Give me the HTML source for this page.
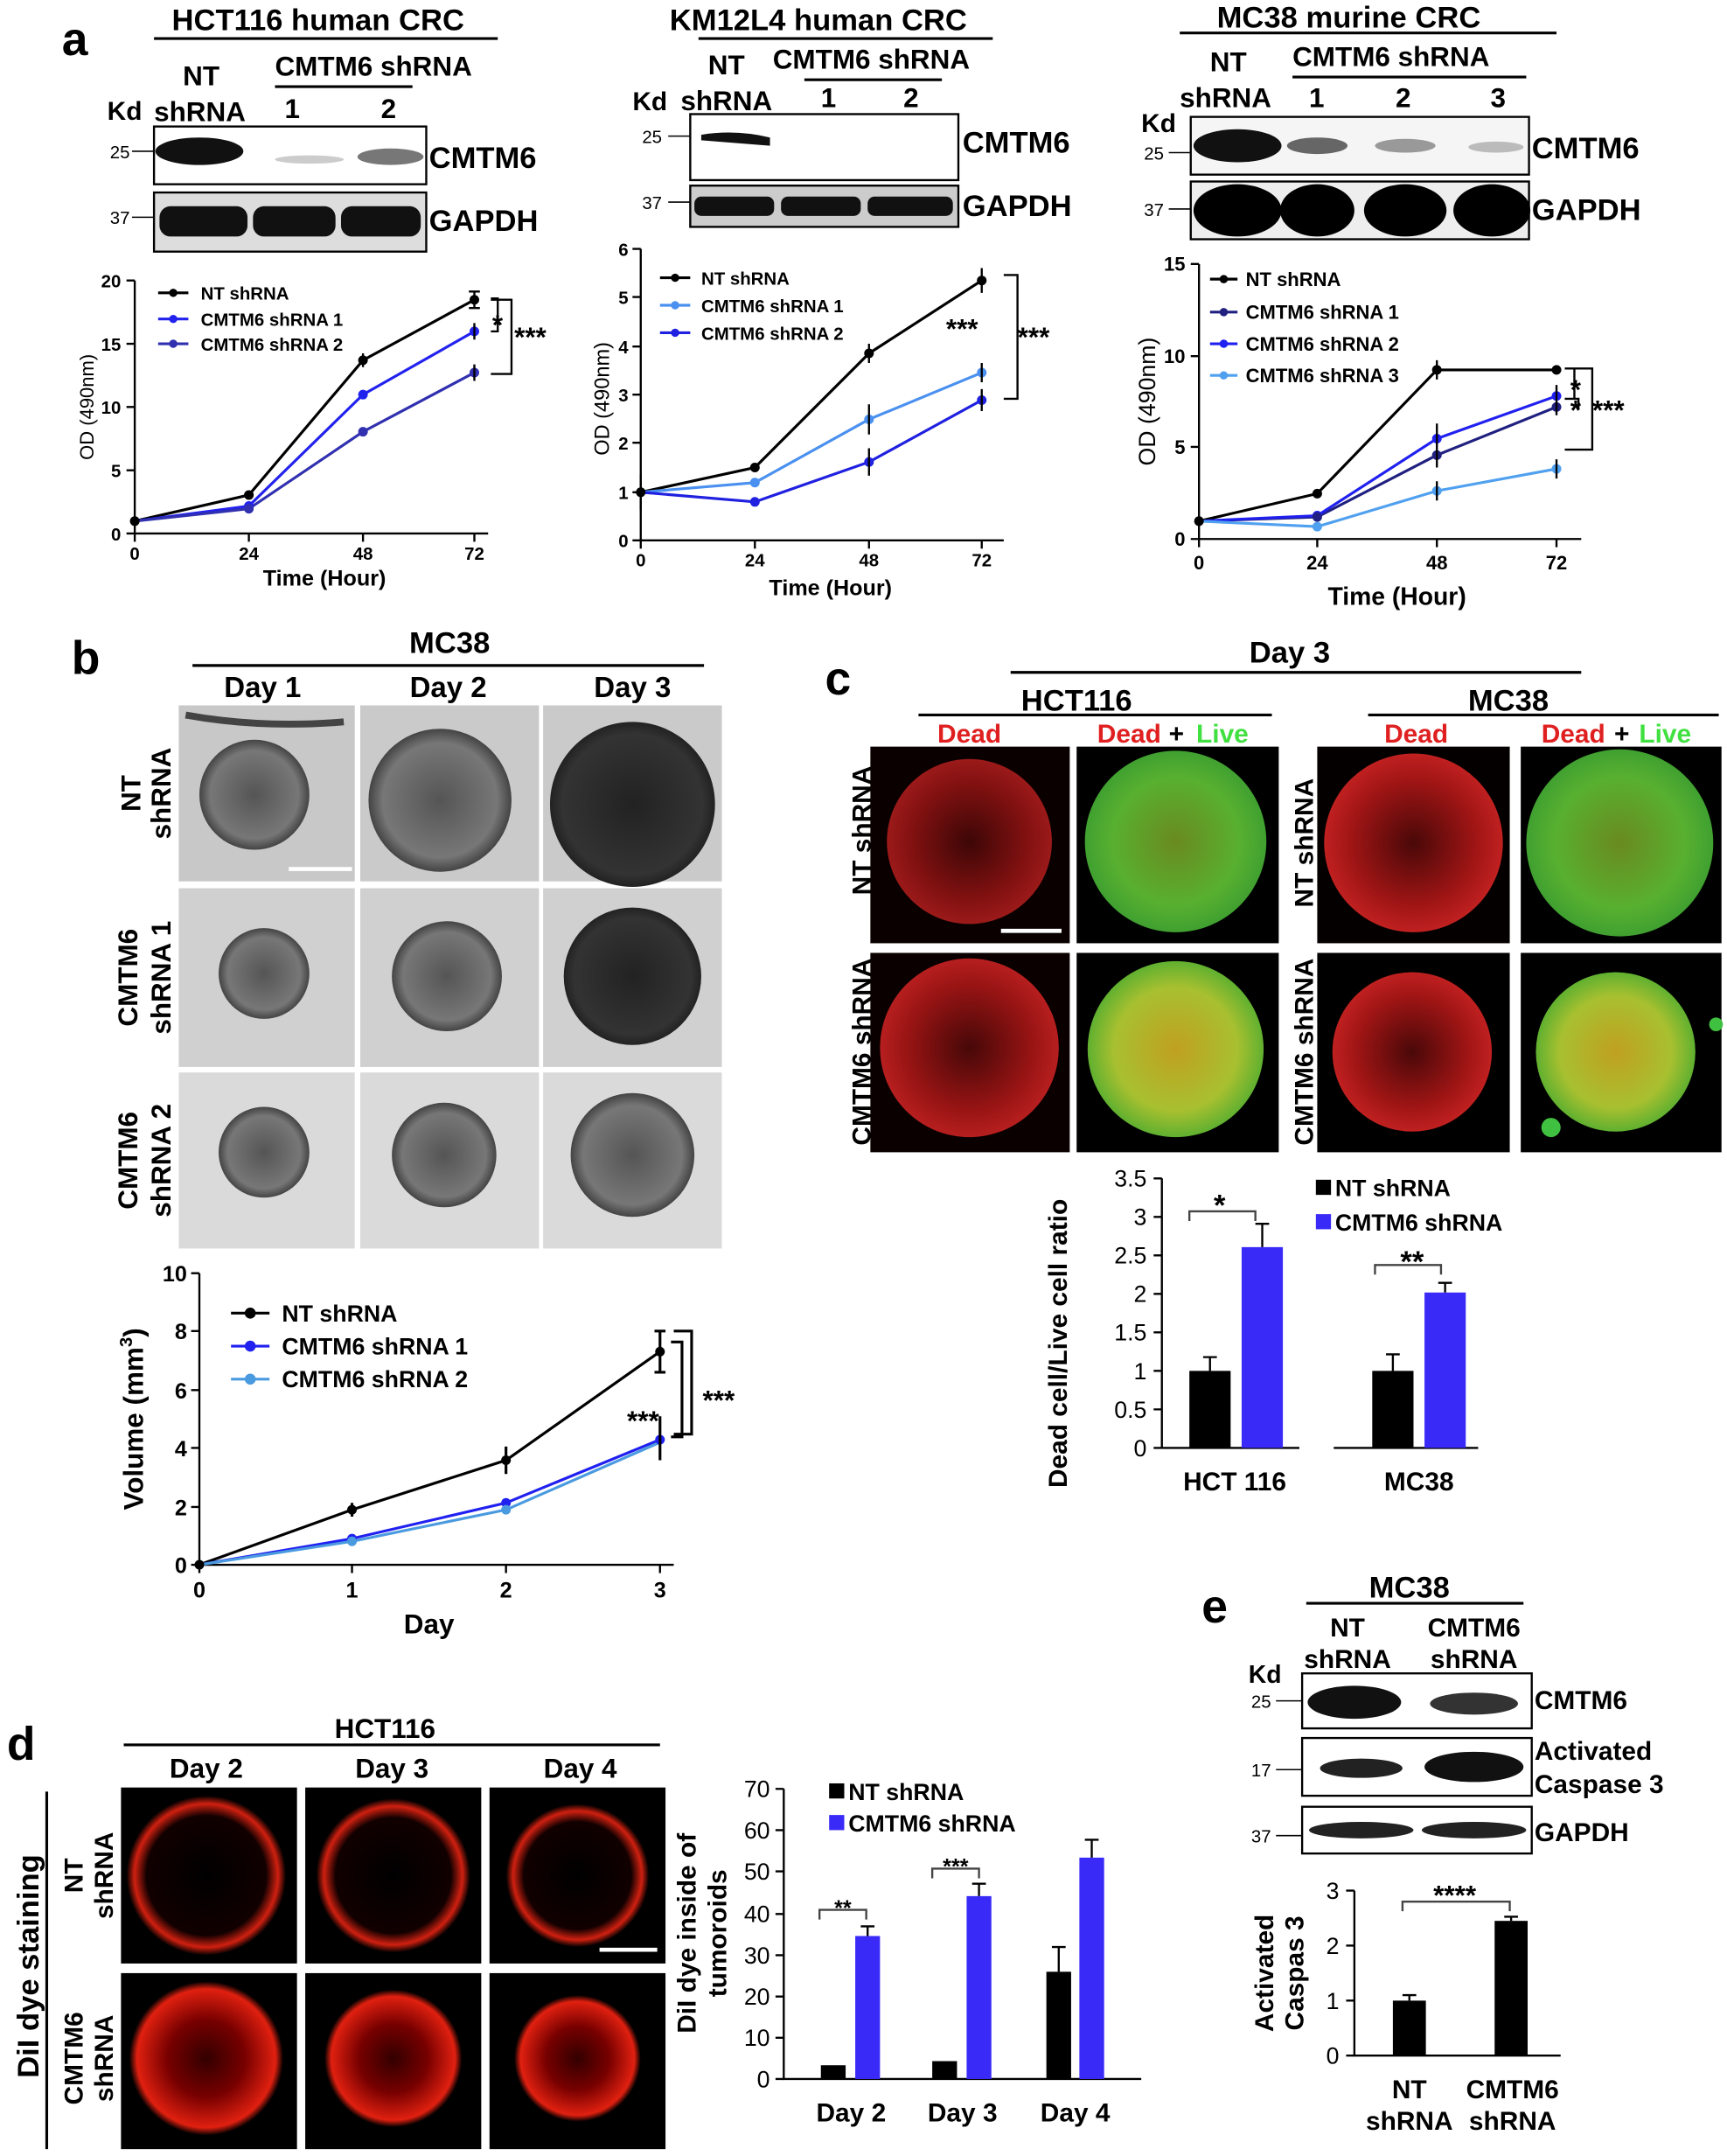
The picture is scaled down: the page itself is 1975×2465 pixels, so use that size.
<!DOCTYPE html>
<html><head><meta charset="utf-8"><style>
html,body{margin:0;padding:0;background:#fff}
svg{display:block}
text{font-family:"Liberation Sans",Arial,sans-serif}
.b{font-weight:bold}
</style></head><body>
<svg width="1975" height="2465" viewBox="0 0 1256 1568" preserveAspectRatio="none" xmlns="http://www.w3.org/2000/svg">
<defs>
<radialGradient id="gs" cx="50%" cy="50%" r="50%"><stop offset="0" stop-color="#555"/><stop offset="0.8" stop-color="#777"/><stop offset="1" stop-color="#444"/></radialGradient>
<radialGradient id="gd" cx="50%" cy="50%" r="50%"><stop offset="0" stop-color="#222"/><stop offset="0.85" stop-color="#333"/><stop offset="1" stop-color="#222"/></radialGradient>
<radialGradient id="rd" cx="50%" cy="50%" r="50%"><stop offset="0" stop-color="#4a0808"/><stop offset="0.7" stop-color="#a01515"/><stop offset="1" stop-color="#c02020"/></radialGradient>
<radialGradient id="gr" cx="50%" cy="50%" r="50%"><stop offset="0" stop-color="#6a8a20"/><stop offset="0.7" stop-color="#58b030"/><stop offset="1" stop-color="#40a030"/></radialGradient>
<radialGradient id="yl" cx="50%" cy="50%" r="50%"><stop offset="0" stop-color="#c0a020"/><stop offset="0.7" stop-color="#a8c030"/><stop offset="1" stop-color="#60b030"/></radialGradient>
<radialGradient id="ring" cx="50%" cy="50%" r="50%"><stop offset="0" stop-color="#000"/><stop offset="0.75" stop-color="#100"/><stop offset="0.9" stop-color="#d02010"/><stop offset="1" stop-color="#000"/></radialGradient>
<radialGradient id="ring2" cx="50%" cy="50%" r="50%"><stop offset="0" stop-color="#300"/><stop offset="0.5" stop-color="#700"/><stop offset="0.9" stop-color="#e02010"/><stop offset="1" stop-color="#000"/></radialGradient>
</defs>

<!-- PANEL a -->
<text x="45" y="40" font-size="34" class="b">a</text>
<!-- blot 1 -->
<text x="125" y="22" font-size="22" class="b">HCT116 human CRC</text>
<line x1="112" y1="28" x2="362" y2="28" stroke="#000" stroke-width="2"/>
<text x="133" y="62" font-size="20" class="b">NT</text>
<text x="200" y="55" font-size="20" class="b">CMTM6 shRNA</text>
<line x1="200" y1="63" x2="300" y2="63" stroke="#000" stroke-width="2"/>
<text x="78" y="87" font-size="19" class="b">Kd</text>
<text x="112" y="88" font-size="20" class="b">shRNA</text>
<text x="207" y="86" font-size="20" class="b">1</text>
<text x="277" y="86" font-size="20" class="b">2</text>
<rect x="112" y="92" width="198" height="42" fill="#fff" stroke="#000" stroke-width="1.5"/>
<ellipse cx="145" cy="110" rx="32" ry="10" fill="#111"/>
<ellipse cx="225" cy="116" rx="25" ry="3" fill="#ccc"/>
<ellipse cx="284" cy="114" rx="24" ry="6" fill="#777"/>
<text x="312" y="122" font-size="22" class="b">CMTM6</text>
<text x="80" y="115" font-size="13">25</text><line x1="96" y1="110" x2="112" y2="110" stroke="#000"/>
<rect x="112" y="140" width="198" height="43" fill="#ddd" stroke="#000" stroke-width="1.5"/>
<rect x="116" y="150" width="64" height="22" rx="8" fill="#111"/>
<rect x="184" y="150" width="60" height="22" rx="8" fill="#111"/>
<rect x="248" y="150" width="58" height="22" rx="8" fill="#111"/>
<text x="312" y="168" font-size="22" class="b">GAPDH</text>
<text x="80" y="163" font-size="13">37</text><line x1="96" y1="158" x2="112" y2="158" stroke="#000"/>
<!-- blot 2 -->
<text x="487" y="22" font-size="22" class="b">KM12L4 human CRC</text>
<line x1="508" y1="28" x2="722" y2="28" stroke="#000" stroke-width="2"/>
<text x="515" y="54" font-size="20" class="b">NT</text>
<text x="562" y="50" font-size="20" class="b">CMTM6 shRNA</text>
<line x1="585" y1="58" x2="685" y2="58" stroke="#000" stroke-width="2"/>
<text x="460" y="80" font-size="19" class="b">Kd</text>
<text x="495" y="80" font-size="20" class="b">shRNA</text>
<text x="597" y="78" font-size="20" class="b">1</text>
<text x="657" y="78" font-size="20" class="b">2</text>
<rect x="502" y="83" width="195" height="48" fill="#fff" stroke="#000" stroke-width="1.5"/>
<path d="M510 98 Q535 94 560 100 L560 106 Q535 104 510 102Z" fill="#111"/>
<text x="700" y="111" font-size="22" class="b">CMTM6</text>
<text x="467" y="104" font-size="13">25</text><line x1="486" y1="99" x2="502" y2="99" stroke="#000"/>
<rect x="502" y="135" width="195" height="30" fill="#ccc" stroke="#000" stroke-width="1.5"/>
<rect x="505" y="143" width="58" height="14" rx="5" fill="#111"/>
<rect x="568" y="143" width="58" height="14" rx="5" fill="#111"/>
<rect x="631" y="143" width="62" height="14" rx="5" fill="#111"/>
<text x="700" y="157" font-size="22" class="b">GAPDH</text>
<text x="467" y="152" font-size="13">37</text><line x1="486" y1="147" x2="502" y2="147" stroke="#000"/>
<!-- blot 3 -->
<text x="885" y="20" font-size="22" class="b">MC38 murine CRC</text>
<line x1="858" y1="24" x2="1132" y2="24" stroke="#000" stroke-width="2"/>
<text x="880" y="52" font-size="20" class="b">NT</text>
<text x="940" y="48" font-size="20" class="b">CMTM6 shRNA</text>
<line x1="940" y1="56" x2="1110" y2="56" stroke="#000" stroke-width="2"/>
<text x="830" y="96" font-size="19" class="b">Kd</text>
<text x="858" y="78" font-size="20" class="b">shRNA</text>
<text x="952" y="78" font-size="20" class="b">1</text>
<text x="1015" y="78" font-size="20" class="b">2</text>
<text x="1084" y="78" font-size="20" class="b">3</text>
<rect x="866" y="85" width="246" height="42" fill="#f5f5f5" stroke="#000" stroke-width="1.5"/>
<ellipse cx="900" cy="106" rx="32" ry="12" fill="#111"/>
<ellipse cx="958" cy="106" rx="22" ry="6" fill="#666"/>
<ellipse cx="1022" cy="106" rx="22" ry="5" fill="#999"/>
<ellipse cx="1088" cy="107" rx="20" ry="4" fill="#bbb"/>
<text x="1114" y="115" font-size="22" class="b">CMTM6</text>
<text x="832" y="116" font-size="13">25</text><line x1="850" y1="111" x2="866" y2="111" stroke="#000"/>
<rect x="866" y="132" width="246" height="42" fill="#eee" stroke="#000" stroke-width="1.5"/>
<ellipse cx="900" cy="153" rx="32" ry="19" fill="#000"/>
<ellipse cx="958" cy="153" rx="27" ry="19" fill="#000"/>
<ellipse cx="1022" cy="153" rx="30" ry="19" fill="#000"/>
<ellipse cx="1085" cy="153" rx="28" ry="19" fill="#000"/>
<text x="1114" y="160" font-size="22" class="b">GAPDH</text>
<text x="832" y="157" font-size="13">37</text><line x1="850" y1="152" x2="866" y2="152" stroke="#000"/>

<!-- chart a1 -->
<g stroke="#000" stroke-width="1.5" fill="none">
<path d="M98 204 V388 H355"/>
<path d="M92 204H98M92 250H98M92 296H98M92 342H98M92 388H98M98 388V394M181 388V394M264 388V394M345 388V394"/>
</g>
<g font-size="13" class="b" text-anchor="end"><text x="88" y="209">20</text><text x="88" y="255">15</text><text x="88" y="301">10</text><text x="88" y="347">5</text><text x="88" y="393">0</text></g>
<g font-size="13" class="b" text-anchor="middle"><text x="98" y="407">0</text><text x="181" y="407">24</text><text x="264" y="407">48</text><text x="345" y="407">72</text></g>
<text x="236" y="426" font-size="16" class="b" text-anchor="middle">Time (Hour)</text>
<text transform="translate(68,296) rotate(-90)" font-size="14" text-anchor="middle">OD (490nm)</text>
<polyline points="98,379 181,360 264,262 345,218" fill="none" stroke="#000" stroke-width="2"/>
<polyline points="98,379 181,368 264,287 345,241" fill="none" stroke="#2222ee" stroke-width="2"/>
<polyline points="98,379 181,370 264,314 345,271" fill="none" stroke="#3030b0" stroke-width="2"/>
<g fill="#000"><circle cx="181" cy="360" r="3.5"/><circle cx="264" cy="262" r="3.5"/><circle cx="345" cy="218" r="3.5"/><circle cx="98" cy="379" r="3.5"/></g>
<g fill="#2222ee"><circle cx="181" cy="368" r="3.5"/><circle cx="264" cy="287" r="3.5"/><circle cx="345" cy="241" r="3.5"/></g>
<g fill="#3030b0"><circle cx="181" cy="370" r="3.5"/><circle cx="264" cy="314" r="3.5"/><circle cx="345" cy="271" r="3.5"/></g>
<g stroke="#000" stroke-width="1.5" fill="none"><path d="M345 212V224M341 212H349M341 224H349M264 257V267M345 235V247M345 265V277M357 217H362V241H357M362 241V241M357 218H372V272H357"/></g>
<text x="358" y="243" font-size="20" class="b">*</text>
<text x="374" y="252" font-size="20" class="b">***</text>
<g font-size="13" class="b">
<line x1="115" y1="213" x2="137" y2="213" stroke="#000" stroke-width="2"/><circle cx="126" cy="213" r="3"/><text x="146" y="218">NT shRNA</text>
<line x1="115" y1="232" x2="137" y2="232" stroke="#2222ee" stroke-width="2"/><circle cx="126" cy="232" r="3" fill="#2222ee"/><text x="146" y="237">CMTM6 shRNA 1</text>
<line x1="115" y1="250" x2="137" y2="250" stroke="#3030b0" stroke-width="2"/><circle cx="126" cy="250" r="3" fill="#3030b0"/><text x="146" y="255">CMTM6  shRNA 2</text>
</g>

<!-- chart a2 -->
<g stroke="#000" stroke-width="1.5" fill="none">
<path d="M466 181 V393 H730"/>
<path d="M460 181H466M460 216H466M460 252H466M460 287H466M460 322H466M460 358H466M460 393H466M466 393V399M549 393V399M632 393V399M714 393V399"/>
</g>
<g font-size="13" class="b" text-anchor="end"><text x="457" y="186">6</text><text x="457" y="221">5</text><text x="457" y="257">4</text><text x="457" y="292">3</text><text x="457" y="327">2</text><text x="457" y="363">1</text><text x="457" y="398">0</text></g>
<g font-size="13" class="b" text-anchor="middle"><text x="466" y="412">0</text><text x="549" y="412">24</text><text x="632" y="412">48</text><text x="714" y="412">72</text></g>
<text x="604" y="433" font-size="16" class="b" text-anchor="middle">Time (Hour)</text>
<text transform="translate(443,290) rotate(-90)" font-size="15" text-anchor="middle">OD (490nm)</text>
<polyline points="466,358 549,340 632,257 714,204" fill="none" stroke="#000" stroke-width="2"/>
<polyline points="466,358 549,351 632,305 714,271" fill="none" stroke="#4a90f0" stroke-width="2"/>
<polyline points="466,358 549,365 632,336 714,291" fill="none" stroke="#2020e0" stroke-width="2"/>
<g fill="#000"><circle cx="549" cy="340" r="3.5"/><circle cx="632" cy="257" r="3.5"/><circle cx="714" cy="204" r="3.5"/><circle cx="466" cy="358" r="3.5"/></g>
<g fill="#4a90f0"><circle cx="549" cy="351" r="3.5"/><circle cx="632" cy="305" r="3.5"/><circle cx="714" cy="271" r="3.5"/></g>
<g fill="#2020e0"><circle cx="549" cy="365" r="3.5"/><circle cx="632" cy="336" r="3.5"/><circle cx="714" cy="291" r="3.5"/></g>
<g stroke="#000" stroke-width="1.5" fill="none"><path d="M714 195V213M466 345V371M632 250V264M632 294V316M632 326V346M714 264V278M714 283V299M730 200H740V290H730"/></g>
<text x="688" y="246" font-size="20" class="b">***</text>
<text x="740" y="252" font-size="20" class="b">***</text>
<g font-size="13" class="b">
<line x1="480" y1="202" x2="502" y2="202" stroke="#000" stroke-width="2"/><circle cx="491" cy="202" r="3"/><text x="510" y="207">NT shRNA</text>
<line x1="480" y1="222" x2="502" y2="222" stroke="#4a90f0" stroke-width="2"/><circle cx="491" cy="222" r="3" fill="#4a90f0"/><text x="510" y="227">CMTM6 shRNA 1</text>
<line x1="480" y1="242" x2="502" y2="242" stroke="#2020e0" stroke-width="2"/><circle cx="491" cy="242" r="3" fill="#2020e0"/><text x="510" y="247">CMTM6 shRNA 2</text>
</g>

<!-- chart a3 -->
<g stroke="#000" stroke-width="1.5" fill="none">
<path d="M872 192 V392 H1150"/>
<path d="M866 192H872M866 259H872M866 325H872M866 392H872M872 392V398M958 392V398M1045 392V398M1132 392V398"/>
</g>
<g font-size="14" class="b" text-anchor="end"><text x="862" y="197">15</text><text x="862" y="264">10</text><text x="862" y="330">5</text><text x="862" y="397">0</text></g>
<g font-size="14" class="b" text-anchor="middle"><text x="872" y="414">0</text><text x="958" y="414">24</text><text x="1045" y="414">48</text><text x="1132" y="414">72</text></g>
<text x="1016" y="440" font-size="18" class="b" text-anchor="middle">Time (Hour)</text>
<text transform="translate(840,292) rotate(-90)" font-size="17" text-anchor="middle">OD (490nm)</text>
<polyline points="872,379 958,359 1045,269 1132,269" fill="none" stroke="#000" stroke-width="2"/>
<polyline points="872,379 958,376 1045,331 1132,296" fill="none" stroke="#202080" stroke-width="2"/>
<polyline points="872,379 958,375 1045,319 1132,288" fill="none" stroke="#2020f0" stroke-width="2"/>
<polyline points="872,379 958,383 1045,357 1132,341" fill="none" stroke="#50a0f0" stroke-width="2"/>
<g fill="#000"><circle cx="958" cy="359" r="3.5"/><circle cx="1045" cy="269" r="3.5"/><circle cx="1132" cy="269" r="3.5"/><circle cx="872" cy="379" r="3.5"/></g>
<g fill="#2020f0"><circle cx="958" cy="375" r="3.5"/><circle cx="1045" cy="319" r="3.5"/><circle cx="1132" cy="288" r="3.5"/></g>
<g fill="#202080"><circle cx="958" cy="376" r="3.5"/><circle cx="1045" cy="331" r="3.5"/><circle cx="1132" cy="296" r="3.5"/></g>
<g fill="#50a0f0"><circle cx="958" cy="383" r="3.5"/><circle cx="1045" cy="357" r="3.5"/><circle cx="1132" cy="341" r="3.5"/></g>
<g stroke="#000" stroke-width="1.5" fill="none"><path d="M1045 262V276M1045 308V340M1045 350V364M1132 334V348M1132 280V302M1138 268H1145V290H1138M1138 290H1148V297M1138 268H1158V327H1138"/></g>
<text x="1142" y="290" font-size="20" class="b">*</text>
<text x="1142" y="305" font-size="20" class="b">*</text>
<text x="1158" y="305" font-size="20" class="b">***</text>
<g font-size="14" class="b">
<line x1="880" y1="203" x2="900" y2="203" stroke="#000" stroke-width="2"/><circle cx="890" cy="203" r="3"/><text x="906" y="208">NT shRNA</text>
<line x1="880" y1="227" x2="900" y2="227" stroke="#202080" stroke-width="2"/><circle cx="890" cy="227" r="3" fill="#202080"/><text x="906" y="232">CMTM6 shRNA 1</text>
<line x1="880" y1="250" x2="900" y2="250" stroke="#2020f0" stroke-width="2"/><circle cx="890" cy="250" r="3" fill="#2020f0"/><text x="906" y="255">CMTM6 shRNA 2</text>
<line x1="880" y1="273" x2="900" y2="273" stroke="#50a0f0" stroke-width="2"/><circle cx="890" cy="273" r="3" fill="#50a0f0"/><text x="906" y="278">CMTM6 shRNA 3</text>
</g>

<!-- PANEL b -->
<text x="52" y="490" font-size="34" class="b">b</text>
<text x="327" y="475" font-size="22" class="b" text-anchor="middle">MC38</text>
<line x1="140" y1="484" x2="512" y2="484" stroke="#000" stroke-width="2"/>
<text x="191" y="507" font-size="21" class="b" text-anchor="middle">Day 1</text>
<text x="326" y="507" font-size="21" class="b" text-anchor="middle">Day 2</text>
<text x="460" y="507" font-size="21" class="b" text-anchor="middle">Day 3</text>
<g>
<rect x="130" y="513" width="128" height="128" fill="#c8c8c8"/><circle cx="185" cy="578" r="40" fill="url(#gs)"/><path d="M135 520 Q190 530 250 525" stroke="#444" stroke-width="5" fill="none"/>
<rect x="262" y="513" width="130" height="128" fill="#cacaca"/><circle cx="320" cy="582" r="52" fill="url(#gs)"/>
<rect x="395" y="513" width="130" height="128" fill="#cacaca"/><circle cx="460" cy="585" r="60" fill="url(#gd)"/>
<rect x="130" y="646" width="128" height="130" fill="#d0d0d0"/><circle cx="192" cy="708" r="33" fill="url(#gs)"/>
<rect x="262" y="646" width="130" height="130" fill="#d0d0d0"/><circle cx="325" cy="710" r="40" fill="url(#gs)"/>
<rect x="395" y="646" width="130" height="130" fill="#d0d0d0"/><circle cx="460" cy="710" r="50" fill="url(#gd)"/>
<rect x="130" y="780" width="128" height="128" fill="#dadada"/><circle cx="192" cy="838" r="33" fill="url(#gs)"/>
<rect x="262" y="780" width="130" height="128" fill="#dadada"/><circle cx="323" cy="840" r="38" fill="url(#gs)"/>
<rect x="395" y="780" width="130" height="128" fill="#dadada"/><circle cx="460" cy="840" r="45" fill="url(#gs)"/>
<line x1="210" y1="632" x2="256" y2="632" stroke="#fff" stroke-width="3"/>
</g>
<text transform="translate(102,577) rotate(-90)" font-size="20" class="b" text-anchor="middle">NT</text>
<text transform="translate(124,577) rotate(-90)" font-size="20" class="b" text-anchor="middle">shRNA</text>
<text transform="translate(100,711) rotate(-90)" font-size="20" class="b" text-anchor="middle">CMTM6</text>
<text transform="translate(124,711) rotate(-90)" font-size="20" class="b" text-anchor="middle">shRNA 1</text>
<text transform="translate(100,844) rotate(-90)" font-size="20" class="b" text-anchor="middle">CMTM6</text>
<text transform="translate(124,844) rotate(-90)" font-size="20" class="b" text-anchor="middle">shRNA 2</text>
<!-- chart b -->
<g stroke="#000" stroke-width="1.5" fill="none">
<path d="M145 926 V1138 H490"/>
<path d="M139 926H145M139 968H145M139 1011H145M139 1053H145M139 1096H145M139 1138H145M145 1138V1144M256 1138V1144M368 1138V1144M480 1138V1144"/>
</g>
<g font-size="16" class="b" text-anchor="end"><text x="136" y="932">10</text><text x="136" y="974">8</text><text x="136" y="1017">6</text><text x="136" y="1059">4</text><text x="136" y="1102">2</text><text x="136" y="1144">0</text></g>
<g font-size="16" class="b" text-anchor="middle"><text x="145" y="1162">0</text><text x="256" y="1162">1</text><text x="368" y="1162">2</text><text x="480" y="1162">3</text></g>
<text x="312" y="1188" font-size="20" class="b" text-anchor="middle">Day</text>
<text transform="translate(104,1032) rotate(-90)" font-size="20" class="b" text-anchor="middle">Volume (mm<tspan font-size="13" dy="-8">3</tspan><tspan dy="8">)</tspan></text>
<polyline points="145,1138 256,1098 368,1062 480,983" fill="none" stroke="#000" stroke-width="2"/>
<polyline points="145,1138 256,1119 368,1093 480,1047" fill="none" stroke="#2020f0" stroke-width="2"/>
<polyline points="145,1138 256,1121 368,1098 480,1049" fill="none" stroke="#4a9ae0" stroke-width="2"/>
<g fill="#000"><circle cx="145" cy="1138" r="3.5"/><circle cx="256" cy="1098" r="3.5"/><circle cx="368" cy="1062" r="3.5"/><circle cx="480" cy="983" r="3.5"/></g>
<g fill="#2020f0"><circle cx="256" cy="1119" r="3.5"/><circle cx="368" cy="1093" r="3.5"/><circle cx="480" cy="1047" r="3.5"/></g>
<g fill="#4a9ae0"><circle cx="256" cy="1121" r="3.5"/><circle cx="368" cy="1098" r="3.5"/></g>
<g stroke="#000" stroke-width="2" fill="none"><path d="M480 968V998M476 968H484M476 998H484M480 1030V1062M368 1052V1072M256 1093V1103M488 976H496V1045H488M490 968H503V1043H490"/></g>
<text x="456" y="1040" font-size="20" class="b">***</text>
<text x="511" y="1025" font-size="20" class="b">***</text>
<g font-size="17" class="b">
<line x1="168" y1="955" x2="196" y2="955" stroke="#000" stroke-width="2"/><circle cx="182" cy="955" r="4"/><text x="205" y="961">NT  shRNA</text>
<line x1="168" y1="979" x2="196" y2="979" stroke="#2020f0" stroke-width="2"/><circle cx="182" cy="979" r="4" fill="#2020f0"/><text x="205" y="985">CMTM6 shRNA 1</text>
<line x1="168" y1="1003" x2="196" y2="1003" stroke="#4a9ae0" stroke-width="2"/><circle cx="182" cy="1003" r="4" fill="#4a9ae0"/><text x="205" y="1009">CMTM6 shRNA 2</text>
</g>

<!-- PANEL c -->
<text x="600" y="505" font-size="34" class="b">c</text>
<text x="938" y="482" font-size="22" class="b" text-anchor="middle">Day 3</text>
<line x1="735" y1="489" x2="1150" y2="489" stroke="#000" stroke-width="2"/>
<text x="783" y="517" font-size="22" class="b" text-anchor="middle">HCT116</text>
<line x1="668" y1="520" x2="925" y2="520" stroke="#000" stroke-width="2"/>
<text x="1097" y="517" font-size="22" class="b" text-anchor="middle">MC38</text>
<line x1="995" y1="520" x2="1250" y2="520" stroke="#000" stroke-width="2"/>
<text x="705" y="540" font-size="19" class="b" fill="#e02020" text-anchor="middle">Dead</text>
<text x="798" y="540" font-size="19" class="b" fill="#e02020">Dead</text><text x="850" y="540" font-size="19" class="b">+</text><text x="870" y="540" font-size="19" class="b" fill="#40e040">Live</text>
<text x="1030" y="540" font-size="19" class="b" fill="#e02020" text-anchor="middle">Dead</text>
<text x="1121" y="540" font-size="19" class="b" fill="#e02020">Dead</text><text x="1174" y="540" font-size="19" class="b">+</text><text x="1192" y="540" font-size="19" class="b" fill="#40e040">Live</text>
<rect x="633" y="543" width="145" height="143" fill="#0a0000"/><circle cx="705" cy="612" r="60" fill="url(#rd)" opacity="0.8"/>
<rect x="783" y="543" width="147" height="143" fill="#000"/><circle cx="855" cy="612" r="66" fill="url(#gr)"/>
<rect x="958" y="543" width="140" height="143" fill="#050000"/><circle cx="1028" cy="613" r="65" fill="url(#rd)"/>
<rect x="1106" y="543" width="146" height="143" fill="#000"/><circle cx="1178" cy="613" r="68" fill="url(#gr)"/>
<rect x="633" y="693" width="145" height="145" fill="#0a0000"/><circle cx="705" cy="762" r="65" fill="url(#rd)" opacity="0.95"/>
<rect x="783" y="693" width="147" height="145" fill="#000"/><circle cx="855" cy="763" r="64" fill="url(#yl)"/>
<rect x="958" y="693" width="140" height="145" fill="#000"/><circle cx="1027" cy="765" r="58" fill="url(#rd)"/>
<rect x="1106" y="693" width="146" height="145" fill="#000"/><circle cx="1175" cy="765" r="58" fill="url(#yl)"/><circle cx="1128" cy="820" r="7" fill="#40c040"/><circle cx="1248" cy="745" r="5" fill="#40c040"/>
<line x1="728" y1="677" x2="772" y2="677" stroke="#fff" stroke-width="3"/>
<text transform="translate(633,604) rotate(-90)" font-size="19" class="b" text-anchor="middle">NT shRNA</text>
<text transform="translate(633,765) rotate(-90)" font-size="19" class="b" text-anchor="middle">CMTM6 shRNA</text>
<text transform="translate(955,613) rotate(-90)" font-size="19" class="b" text-anchor="middle">NT shRNA</text>
<text transform="translate(955,765) rotate(-90)" font-size="19" class="b" text-anchor="middle">CMTM6 shRNA</text>
<!-- bar c -->
<g stroke="#000" stroke-width="1.5" fill="none">
<path d="M845 857 V1053 M845 1053H945M970 1053H1075"/>
<path d="M839 857H845M839 885H845M839 913H845M839 941H845M839 969H845M839 997H845M839 1025H845M839 1053H845"/>
</g>
<g font-size="17" text-anchor="end"><text x="834" y="863">3.5</text><text x="834" y="891">3</text><text x="834" y="919">2.5</text><text x="834" y="947">2</text><text x="834" y="975">1.5</text><text x="834" y="1003">1</text><text x="834" y="1031">0.5</text><text x="834" y="1059">0</text></g>
<rect x="865" y="997" width="30" height="56" fill="#000"/>
<rect x="903" y="907" width="30" height="146" fill="#3a2af8"/>
<rect x="998" y="997" width="30" height="56" fill="#000"/>
<rect x="1036" y="940" width="30" height="113" fill="#3a2af8"/>
<g stroke="#000" stroke-width="1.5"><path d="M880 997V987M875 987H885M918 907V890M913 890H923M1013 997V985M1008 985H1018M1051 940V933M1046 933H1056"/></g>
<g stroke="#444" stroke-width="1.5" fill="none"><path d="M865 888V881H913V888M1000 927V920H1048V927"/></g>
<text x="887" y="884" font-size="22" class="b" text-anchor="middle">*</text>
<text x="1027" y="925" font-size="22" class="b" text-anchor="middle">**</text>
<text x="898" y="1084" font-size="19" class="b" text-anchor="middle">HCT 116</text>
<text x="1032" y="1084" font-size="19" class="b" text-anchor="middle">MC38</text>
<text transform="translate(776,977) rotate(-90)" font-size="19" class="b" text-anchor="middle">Dead cell/Live cell ratio</text>
<rect x="957" y="858" width="11" height="11" fill="#000"/><text x="971" y="870" font-size="17" class="b">NT shRNA</text>
<rect x="957" y="883" width="11" height="11" fill="#3a2af8"/><text x="971" y="895" font-size="17" class="b">CMTM6 shRNA</text>

<!-- PANEL d -->
<text x="5" y="1280" font-size="34" class="b">d</text>
<text x="280" y="1264" font-size="20" class="b" text-anchor="middle">HCT116</text>
<line x1="90" y1="1269" x2="480" y2="1269" stroke="#000" stroke-width="2"/>
<text x="150" y="1293" font-size="20" class="b" text-anchor="middle">Day 2</text>
<text x="285" y="1293" font-size="20" class="b" text-anchor="middle">Day 3</text>
<text x="422" y="1293" font-size="20" class="b" text-anchor="middle">Day 4</text>
<rect x="88" y="1300" width="128" height="128" fill="#000"/><circle cx="150" cy="1364" r="58" fill="url(#ring)"/>
<rect x="222" y="1300" width="128" height="128" fill="#000"/><circle cx="286" cy="1364" r="56" fill="url(#ring)"/>
<rect x="356" y="1300" width="128" height="128" fill="#000"/><circle cx="420" cy="1364" r="52" fill="url(#ring)"/>
<rect x="88" y="1435" width="128" height="128" fill="#000"/><circle cx="150" cy="1497" r="56" fill="url(#ring2)"/>
<rect x="222" y="1435" width="128" height="128" fill="#000"/><circle cx="286" cy="1497" r="50" fill="url(#ring2)"/>
<rect x="356" y="1435" width="128" height="128" fill="#000"/><circle cx="420" cy="1497" r="46" fill="url(#ring2)"/>
<line x1="436" y1="1418" x2="478" y2="1418" stroke="#fff" stroke-width="3"/>
<line x1="34" y1="1303" x2="34" y2="1563" stroke="#000" stroke-width="2"/>
<text transform="translate(28,1430) rotate(-90)" font-size="22" class="b" text-anchor="middle">DiI dye staining</text>
<text transform="translate(60,1364) rotate(-90)" font-size="19" class="b" text-anchor="middle">NT</text>
<text transform="translate(82,1364) rotate(-90)" font-size="19" class="b" text-anchor="middle">shRNA</text>
<text transform="translate(60,1497) rotate(-90)" font-size="19" class="b" text-anchor="middle">CMTM6</text>
<text transform="translate(82,1497) rotate(-90)" font-size="19" class="b" text-anchor="middle">shRNA</text>
<!-- bar d -->
<g stroke="#000" stroke-width="1.5" fill="none">
<path d="M570 1301 V1512 H830"/>
<path d="M564 1301H570M564 1331H570M564 1361H570M564 1392H570M564 1422H570M564 1452H570M564 1482H570M564 1512H570"/>
</g>
<g font-size="17" text-anchor="end"><text x="560" y="1307">70</text><text x="560" y="1337">60</text><text x="560" y="1367">50</text><text x="560" y="1398">40</text><text x="560" y="1428">30</text><text x="560" y="1458">20</text><text x="560" y="1488">10</text><text x="560" y="1518">0</text></g>
<rect x="597" y="1502" width="18" height="10" fill="#000"/><rect x="622" y="1408" width="18" height="104" fill="#3a2af8"/>
<rect x="678" y="1499" width="18" height="13" fill="#000"/><rect x="703" y="1379" width="18" height="133" fill="#3a2af8"/>
<rect x="761" y="1434" width="18" height="78" fill="#000"/><rect x="785" y="1351" width="18" height="161" fill="#3a2af8"/>
<g stroke="#000" stroke-width="1.5"><path d="M631 1408V1401M626 1401H636M712 1379V1370M707 1370H717M770 1434V1416M765 1416H775M794 1351V1338M789 1338H799"/></g>
<g stroke="#444" stroke-width="1.5" fill="none"><path d="M596 1396V1389H630V1396M678 1366V1359H712V1366"/></g>
<text x="613" y="1393" font-size="16" class="b" text-anchor="middle">**</text>
<text x="695" y="1363" font-size="16" class="b" text-anchor="middle">***</text>
<text x="619" y="1543" font-size="19" class="b" text-anchor="middle">Day 2</text>
<text x="700" y="1543" font-size="19" class="b" text-anchor="middle">Day 3</text>
<text x="782" y="1543" font-size="19" class="b" text-anchor="middle">Day 4</text>
<text transform="translate(506,1406) rotate(-90)" font-size="19" class="b" text-anchor="middle">DiI dye inside of</text>
<text transform="translate(528,1406) rotate(-90)" font-size="19" class="b" text-anchor="middle">tumoroids</text>
<rect x="603" y="1297" width="11" height="11" fill="#000"/><text x="617" y="1309" font-size="17" class="b">NT shRNA</text>
<rect x="603" y="1320" width="11" height="11" fill="#3a2af8"/><text x="617" y="1332" font-size="17" class="b">CMTM6 shRNA</text>

<!-- PANEL e -->
<text x="874" y="1180" font-size="34" class="b">e</text>
<text x="1025" y="1162" font-size="22" class="b" text-anchor="middle">MC38</text>
<line x1="950" y1="1166" x2="1108" y2="1166" stroke="#000" stroke-width="2"/>
<text x="980" y="1190" font-size="19" class="b" text-anchor="middle">NT</text>
<text x="1072" y="1190" font-size="19" class="b" text-anchor="middle">CMTM6</text>
<text x="980" y="1213" font-size="19" class="b" text-anchor="middle">shRNA</text>
<text x="1072" y="1213" font-size="19" class="b" text-anchor="middle">shRNA</text>
<text x="908" y="1224" font-size="18" class="b">Kd</text>
<rect x="947" y="1217" width="167" height="40" fill="#fff" stroke="#000" stroke-width="1.5"/>
<ellipse cx="985" cy="1238" rx="34" ry="12" fill="#111"/><ellipse cx="1072" cy="1239" rx="32" ry="8" fill="#333"/>
<text x="1116" y="1243" font-size="19" class="b">CMTM6</text>
<text x="910" y="1242" font-size="13">25</text><line x1="928" y1="1237" x2="947" y2="1237" stroke="#000"/>
<rect x="947" y="1264" width="167" height="42" fill="#fff" stroke="#000" stroke-width="1.5"/>
<ellipse cx="990" cy="1286" rx="30" ry="7" fill="#222"/><ellipse cx="1072" cy="1285" rx="36" ry="11" fill="#111"/>
<text x="1116" y="1280" font-size="19" class="b">Activated</text>
<text x="1116" y="1304" font-size="19" class="b">Caspase 3</text>
<text x="910" y="1292" font-size="13">17</text><line x1="928" y1="1287" x2="947" y2="1287" stroke="#000"/>
<rect x="947" y="1314" width="167" height="34" fill="#fff" stroke="#000" stroke-width="1.5"/>
<ellipse cx="990" cy="1331" rx="38" ry="6" fill="#222"/><ellipse cx="1072" cy="1331" rx="38" ry="6" fill="#222"/>
<text x="1116" y="1339" font-size="19" class="b">GAPDH</text>
<text x="910" y="1340" font-size="13">37</text><line x1="928" y1="1335" x2="947" y2="1335" stroke="#000"/>
<!-- bar e -->
<g stroke="#000" stroke-width="1.5" fill="none">
<path d="M985 1375 V1495 H1135"/>
<path d="M979 1375H985M979 1415H985M979 1455H985M979 1495H985"/>
</g>
<g font-size="17" text-anchor="end"><text x="974" y="1381">3</text><text x="974" y="1421">2</text><text x="974" y="1461">1</text><text x="974" y="1501">0</text></g>
<rect x="1013" y="1455" width="24" height="40" fill="#000"/>
<rect x="1087" y="1397" width="24" height="98" fill="#000"/>
<g stroke="#000" stroke-width="1.5"><path d="M1025 1455V1451M1020 1451H1030M1099 1397V1394M1094 1394H1104"/></g>
<path d="M1020 1390V1383H1098V1390" stroke="#444" stroke-width="1.5" fill="none"/>
<text x="1058" y="1385" font-size="20" class="b" text-anchor="middle">****</text>
<text x="1025" y="1526" font-size="19" class="b" text-anchor="middle">NT</text>
<text x="1025" y="1549" font-size="19" class="b" text-anchor="middle">shRNA</text>
<text x="1100" y="1526" font-size="19" class="b" text-anchor="middle">CMTM6</text>
<text x="1100" y="1549" font-size="19" class="b" text-anchor="middle">shRNA</text>
<text transform="translate(926,1435) rotate(-90)" font-size="19" class="b" text-anchor="middle">Activated</text>
<text transform="translate(948,1435) rotate(-90)" font-size="19" class="b" text-anchor="middle">Caspas 3</text>
</svg>
</body></html>
